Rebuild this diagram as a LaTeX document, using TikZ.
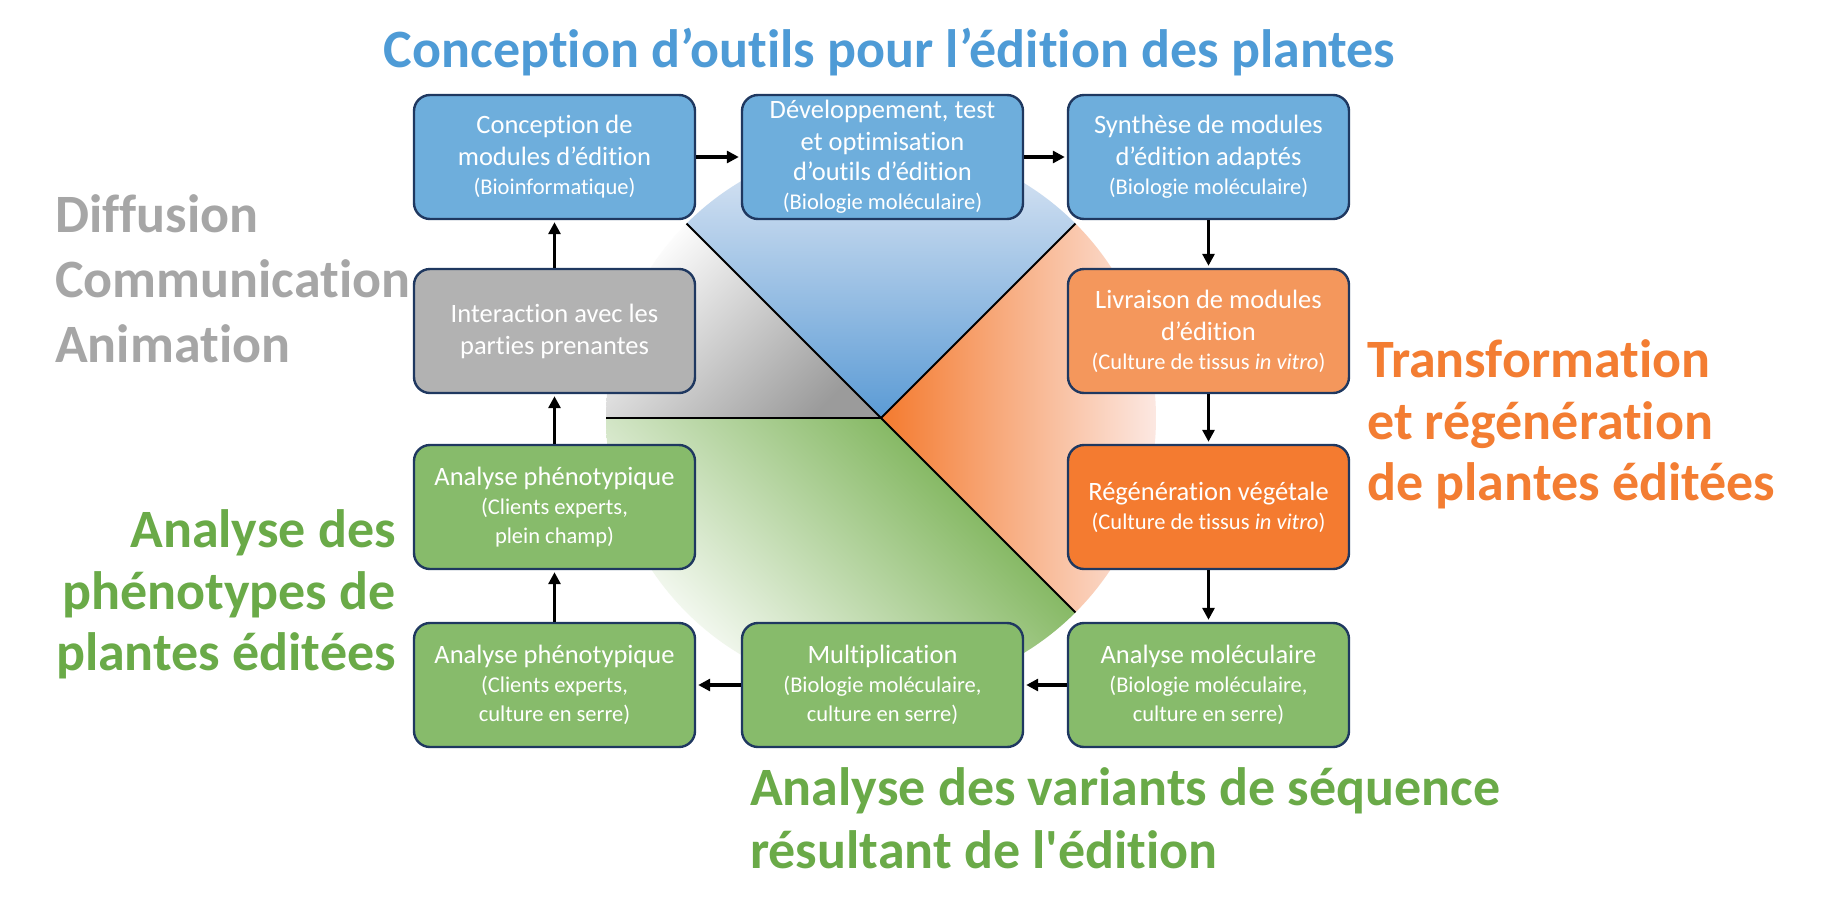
\documentclass[tikz,border=0pt]{standalone}
\usepackage{fontspec}
\setmainfont{Carlito}[Ligatures={TeX,NoCommon,NoContextual}]
\usetikzlibrary{arrows.meta}
\definecolor{boxline}{RGB}{31,56,96}
\definecolor{cblue}{RGB}{110,174,220}
\definecolor{cgray}{RGB}{178,178,178}
\definecolor{corangel}{RGB}{244,151,92}
\definecolor{corange}{RGB}{244,123,48}
\definecolor{cgreen}{RGB}{135,187,107}
\definecolor{tblue}{RGB}{78,155,214}
\definecolor{tgray}{RGB}{166,166,166}
\definecolor{torange}{RGB}{243,125,50}
\definecolor{tgreen}{RGB}{106,170,72}
\definecolor{bluedark}{RGB}{91,155,213}
\definecolor{bluelight}{RGB}{225,233,245}
\definecolor{orangemain}{RGB}{244,122,46}
\definecolor{orangepale}{RGB}{252,232,226}
\definecolor{greenmain}{RGB}{112,172,72}
\definecolor{graydark}{RGB}{155,155,155}
\newcommand{\plin}[1]{{\fontsize{22.5}{29}\selectfont #1}}
\begin{document}
\begin{tikzpicture}[x=1pt,y=1pt,
  box/.style={rectangle, rounded corners=16pt, draw=boxline, line width=2.4pt,
    minimum width=281pt, minimum height=124pt, inner sep=0pt, align=center,
    text=white, font=\fontsize{26.5}{32}\selectfont},
  arr/.style={line width=3.2pt, -{Triangle[length=12pt,width=12pt]}, shorten >=2pt},
  sepline/.style={line width=2pt, black},
  ttl/.style={inner sep=0pt, font=\fontsize{54}{63}\selectfont\bfseries}]
\useasboundingbox (0,0) rectangle (1836,-916);
\fill[white] (0,0) rectangle (1836,-916);

\coordinate (C) at (881,-418);
\coordinate (pNE) at ([shift={(45:275)}]C);
\coordinate (pNW) at ([shift={(135:275)}]C);
\coordinate (pW) at ([shift={(180:275)}]C);
\coordinate (pSE) at ([shift={(-45:275)}]C);

% blue sector
\begin{scope}
\clip (C) -- (pNE) arc[start angle=45,end angle=135,radius=275] -- cycle;
\shade[top color=bluelight,bottom color=bluedark] (606,-143) rectangle (1156,-418);
\end{scope}
% orange sector
\begin{scope}
\clip (C) -- (pSE) arc[start angle=-45,end angle=45,radius=275] -- cycle;
\shade[left color=orangemain,right color=orangepale] (881,-224) rectangle (1156,-612);
\end{scope}
% green sector
\begin{scope}
\clip (C) -- (pW) arc[start angle=180,end angle=315,radius=275] -- cycle;
\shade[top color=greenmain,bottom color=white,shading angle=-45] (606,-418) rectangle (1076,-693);
\end{scope}
% gray sector
\begin{scope}
\clip (C) -- (pNW) arc[start angle=135,end angle=180,radius=275] -- cycle;
\shade[top color=white,bottom color=graydark,shading angle=45] (606,-224) rectangle (881,-418);
\end{scope}

\draw[sepline] (C) -- (pNE);
\draw[sepline] (C) -- (pNW);
\draw[sepline, line width=2.6pt] (C) -- (pW);
\draw[sepline] (C) -- (pSE);

% boxes
\node[box, fill=cblue] (b1) at (554.5,-157) {Conception de\\ modules d’édition\\[-3pt] \plin{(Bioinformatique)}};
\node[box, fill=cblue] (b2) at (882.5,-157) {Développement, test\\ et optimisation\\[-2pt] d’outils d’édition\\[-3pt] \plin{(Biologie moléculaire)}};
\node[box, fill=cblue] (b3) at (1208.5,-157) {Synthèse de modules\\ d’édition adaptés\\[-3pt] \plin{(Biologie moléculaire)}};
\node[box, fill=corangel] (b4) at (1208.5,-331) {Livraison de modules\\ d’édition\\[-3pt] \plin{(Culture de tissus \emph{in vitro})}};
\node[box, fill=corange] (b5) at (1208.5,-507) {Régénération végétale\\[-3pt] \plin{(Culture de tissus \emph{in vitro})}};
\node[box, fill=cgreen] (b6) at (1208.5,-685) {Analyse moléculaire\\[-3pt] \plin{(Biologie moléculaire,}\\[-3pt] \plin{culture en serre)}};
\node[box, fill=cgreen] (b7) at (882.5,-685) {Multiplication\\[-3pt] \plin{(Biologie moléculaire,}\\[-3pt] \plin{culture en serre)}};
\node[box, fill=cgreen] (b8) at (554.5,-685) {Analyse phénotypique\\[-3pt] \plin{(Clients experts,}\\[-3pt] \plin{culture en serre)}};
\node[box, fill=cgreen] (b9) at (554.5,-507) {Analyse phénotypique\\[-3pt] \plin{(Clients experts,}\\[-3pt] \plin{plein champ)}};
\node[box, fill=cgray] (b10) at (554.5,-331) {Interaction avec les\\ parties prenantes};

% arrows
\draw[arr] (b1) -- (b2);
\draw[arr] (b2) -- (b3);
\draw[arr] (b3) -- (b4);
\draw[arr] (b4) -- (b5);
\draw[arr] (b5) -- (b6);
\draw[arr] (b6) -- (b7);
\draw[arr] (b7) -- (b8);
\draw[arr] (b8) -- (b9);
\draw[arr] (b9) -- (b10);
\draw[arr] (b10) -- (b1);

% titles
\node[ttl, text=tblue, anchor=base] (tb) at (889.5,-67) {Conception d’outils pour l’édition des plantes};
\node[ttl, text=tgray, anchor=base west] (tg1) at (55,-232) {Diffusion};
\node[ttl, text=tgray, anchor=base west] (tg2) at (55,-297) {Communication};
\node[ttl, text=tgray, anchor=base west] (tg3) at (55,-362) {Animation};
\node[ttl, text=torange, anchor=base west] (to1) at (1367,-377) {Transformation};
\node[ttl, text=torange, anchor=base west] (to2) at (1367,-439) {et régénération};
\node[ttl, text=torange, anchor=base west] (to3) at (1367,-500) {de plantes éditées};
\node[ttl, text=tgreen, anchor=base east] (tp1) at (396,-547) {Analyse des};
\node[ttl, text=tgreen, anchor=base east] (tp2) at (396,-609) {phénotypes de};
\node[ttl, text=tgreen, anchor=base east] (tp3) at (396,-670) {plantes éditées};
\node[ttl, text=tgreen, anchor=base west] (tv1) at (750,-805) {Analyse des variants de séquence};
\node[ttl, text=tgreen, anchor=base west] (tv2) at (750,-868) {résultant de l\textquotesingle édition};
\end{tikzpicture}
\end{document}
